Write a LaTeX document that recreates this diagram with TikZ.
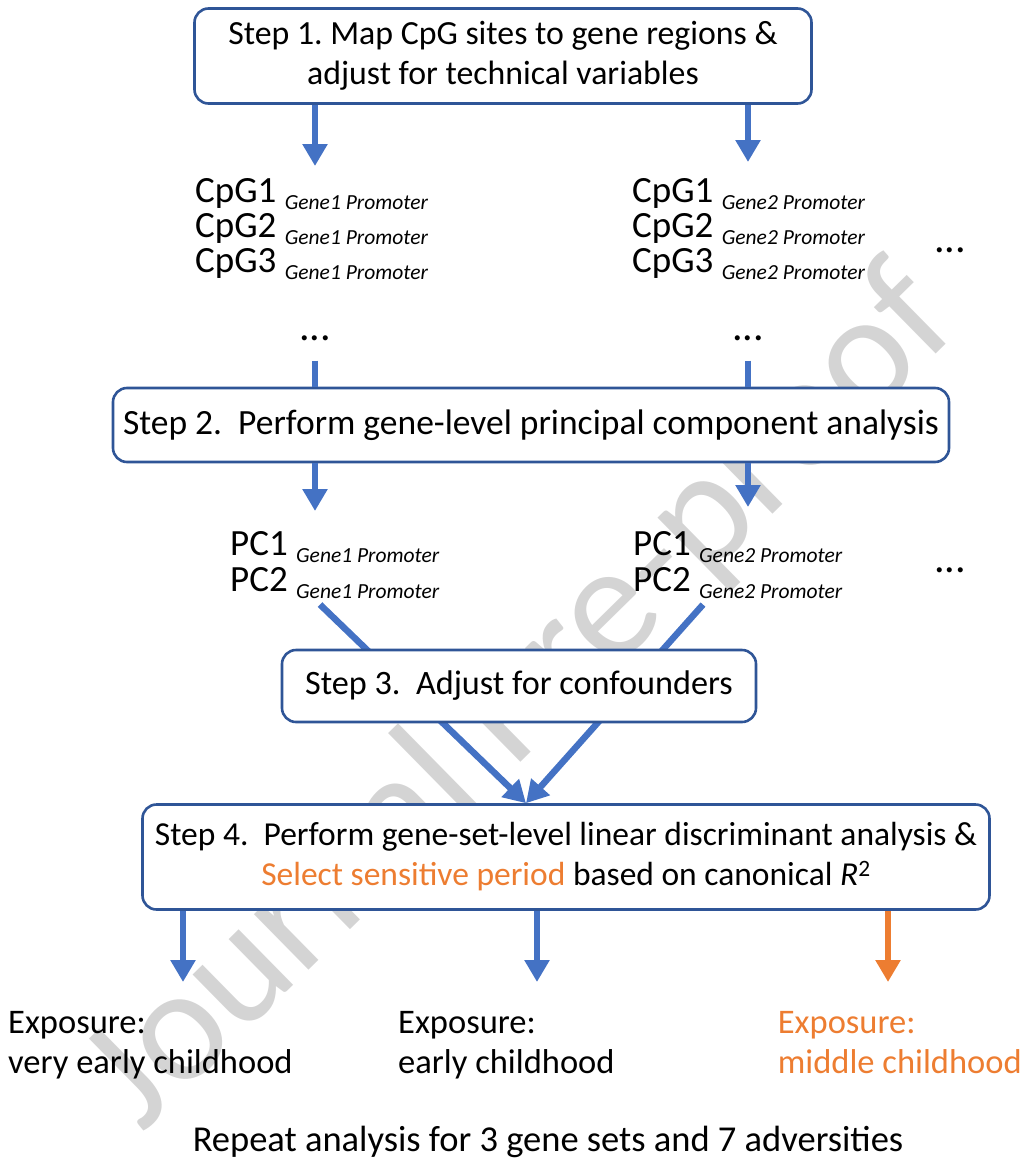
\documentclass[tikz,border=0pt]{standalone}
\usepackage{fontspec}
\setmainfont{Carlito}
\usetikzlibrary{positioning,calc,arrows.meta}
\definecolor{stepblue}{HTML}{2F5597}
\definecolor{flowblue}{HTML}{4472C4}
\definecolor{periodorange}{HTML}{ED7D31}
\newcommand{\gsub}[1]{\raisebox{-7pt}{\fontsize{21.5}{21.5}\selectfont\itshape #1}}

\begin{document}
\begin{tikzpicture}[x=1pt,y=-1pt,
    stepbox/.style={draw=stepblue,line width=2.6pt,rounded corners=14pt,fill=white,
      align=center,inner sep=0pt,font=\fontsize{34.5}{40}\selectfont},
    sitetext/.style={align=left,inner sep=0pt,anchor=north west,font=\fontsize{37}{35}\selectfont},
    exptext/.style={align=left,inner sep=0pt,anchor=north west,font=\fontsize{34.5}{40}\selectfont},
    dotstext/.style={inner sep=0pt,font=\fontsize{42}{42}\selectfont},
    flow/.style={flowblue,line width=6.5pt,-{Triangle[width=24pt,length=22pt]}},
    link/.style={flowblue,line width=6.5pt},
  ]
      \useasboundingbox (0,0) rectangle (1027,1172);
      % watermark
      \node[rotate=44.5,text=black!17,font=\fontsize{163}{163}\selectfont] (mark) at (522,700) {Journal Pre-proof};

      % Step 1
      \node[stepbox,minimum width=617pt,minimum height=95pt,font=\fontsize{33.8}{40}\selectfont] (step1) at (503,56)
        {Step 1.\ Map CpG sites to gene regions \&\\adjust for technical variables};
      \node[sitetext] (cpgA) at (195,178)
        {CpG1 \gsub{Gene1 Promoter}\\CpG2 \gsub{Gene1 Promoter}\\CpG3 \gsub{Gene1 Promoter}};
      \node[sitetext] (cpgB) at (632,178)
        {CpG1 \gsub{Gene2 Promoter}\\CpG2 \gsub{Gene2 Promoter}\\CpG3 \gsub{Gene2 Promoter}};
      \node[dotstext] (dotsA) at (315,338) {...};
      \node[dotstext] (dotsB) at (748,338) {...};
      \node[dotstext] (dotsR) at (950,250) {...};
      \draw[flow,shorten >=12pt] (step1.south -| dotsA) -- (dotsA |- cpgA.north);
      \draw[flow,shorten >=16pt] (step1.south -| dotsB) -- (dotsB |- cpgB.north);

      % Step 2
      \node[stepbox,minimum width=836pt,minimum height=74pt,font=\fontsize{35.5}{40}\selectfont] (step2) at (531,425)
        {Step 2.\ \ Perform gene-level principal component analysis};
      \draw[link,shorten <=20pt] (dotsA.south) -- (dotsA |- step2.north);
      \draw[link,shorten <=20pt] (dotsB.south) -- (dotsB |- step2.north);
      \node[sitetext,font=\fontsize{37}{36}\selectfont] (pcA) at (230,531)
        {PC1 \gsub{Gene1 Promoter}\\PC2 \gsub{Gene1 Promoter}};
      \node[sitetext,font=\fontsize{37}{36}\selectfont] (pcB) at (633,531)
        {PC1 \gsub{Gene2 Promoter}\\PC2 \gsub{Gene2 Promoter}};
      \node[dotstext] (dotsP) at (950,570) {...};
      \draw[flow,shorten >=20pt] (step2.south -| dotsA) -- (dotsA |- pcA.north);
      \draw[flow,shorten >=24pt] (step2.south -| dotsB) -- (dotsB |- pcB.north);

      % Step 4 (arrows pass behind step 3)
      \node[stepbox,minimum width=847pt,minimum height=105pt,font=\fontsize{33.5}{40}\selectfont] (step4) at (566,857)
        {Step 4.\ \ Perform gene-set-level linear discriminant analysis \&\\
         \textcolor{periodorange}{Select sensitive period} based on canonical \textit{R}\textsuperscript{2}};
      \coordinate (merge) at ([xshift=-40pt]step4.north);
      \draw[flow] ([xshift=5pt,yshift=-6pt]dotsA |- pcA.south) -- (merge);
      \draw[flow] ([xshift=-45pt,yshift=-6pt]dotsB |- pcB.south) -- (merge);

      % Step 3
      \node[stepbox,minimum width=474pt,minimum height=72pt,font=\fontsize{34.2}{40}\selectfont] (step3) at (519,686)
        {Step 3.\ \ Adjust for confounders};

      % exposures
      \node[exptext] (expA) at (8,1011) {Exposure:\\very early childhood};
      \node[exptext] (expB) at (398,1011) {Exposure:\\early childhood};
      \node[exptext,anchor=north east,text=periodorange] (expC) at (1022,1011) {Exposure:\\middle childhood};
      \coordinate (tipA) at (183,982);
      \coordinate (tipB) at (537,982);
      \coordinate (tipC) at (888,982);
      \draw[flow] (step4.south -| tipA) -- (tipA);
      \draw[flow] (step4.south -| tipB) -- (tipB);
      \draw[flow,periodorange] (step4.south -| tipC) -- (tipC);

      \node[font=\fontsize{36.5}{37}\selectfont] (repeat) at (548,1142)
        {Repeat analysis for 3 gene sets and 7 adversities};
    \end{tikzpicture}
\end{document}
